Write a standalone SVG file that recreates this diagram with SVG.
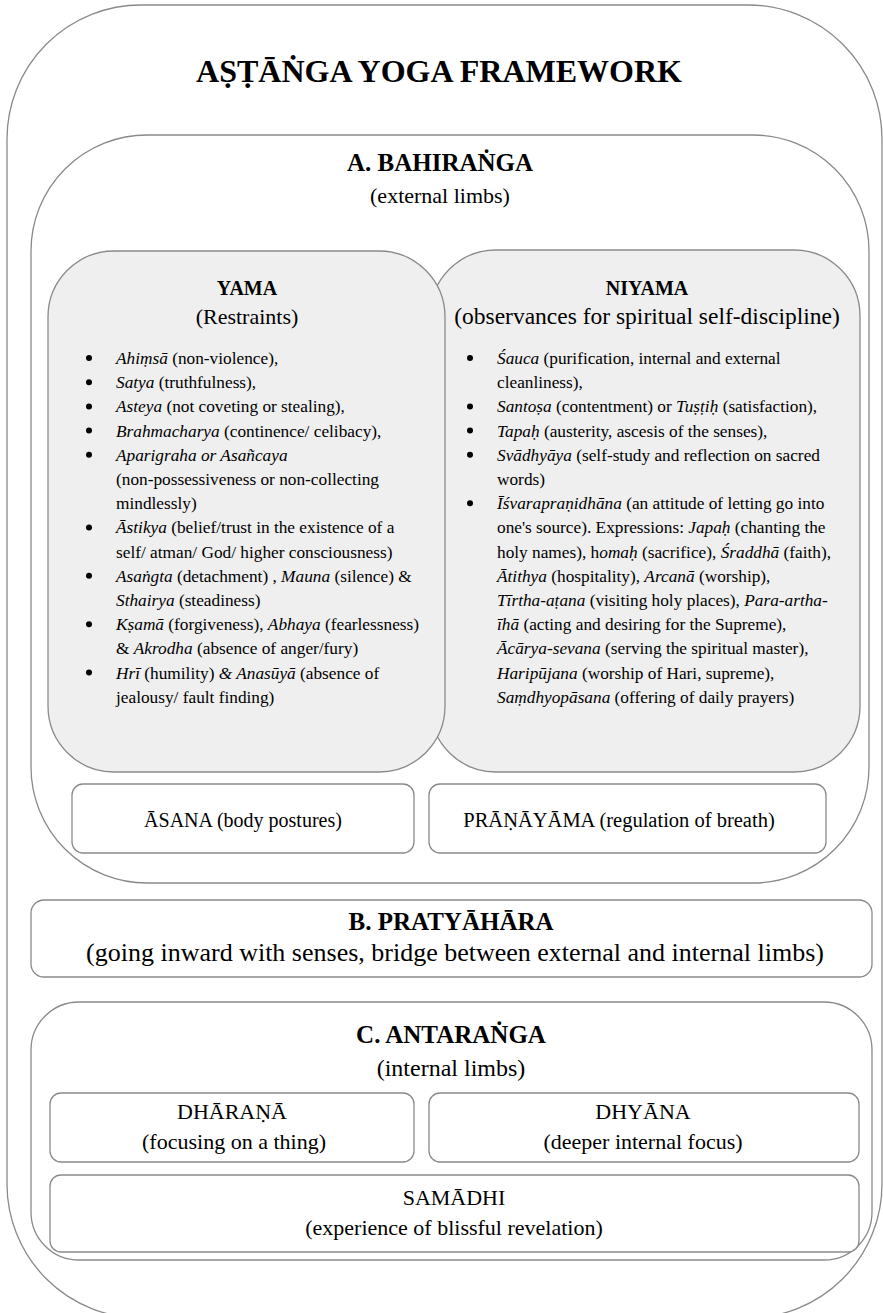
<svg xmlns="http://www.w3.org/2000/svg" width="883" height="1313" viewBox="0 0 883 1313">
<style>
text{font-family:"Liberation Serif","Times New Roman",serif;fill:#000}
.box{fill:#fff;stroke:#8a8a8a;stroke-width:1.3}
.gbox{fill:#efefef;stroke:#8a8a8a;stroke-width:1.3}
.t{font-size:32px;font-weight:bold;text-anchor:middle}
.h{font-size:25px;font-weight:bold;text-anchor:middle}
.s{font-size:22px;text-anchor:middle}
.hs{font-size:20px;font-weight:bold;text-anchor:middle}
.li{font-size:17.3px}
.i{font-style:italic}
.c{text-anchor:middle}
</style>
<g id="frame">
<rect class="box" x="7" y="5" width="875" height="1313" rx="134" ry="134"/>
<text class="t" x="439" y="82">AṢṬĀṄGA YOGA FRAMEWORK</text>
</g>
<g id="bahiranga">
<rect class="box" x="31" y="135" width="838" height="748" rx="116" ry="116"/>
<text class="h" x="440" y="171">A. BAHIRAṄGA</text>
<text class="s" x="440" y="203">(external limbs)</text>
</g>
<g id="niyama">
<rect class="gbox" x="430" y="250" width="430" height="522" rx="66" ry="66"/>
<text class="hs" x="647" y="295">NIYAMA</text>
<text class="s" x="647" y="324" style="font-size:23.5px">(observances for spiritual self-discipline)</text>
<g fill="#000">
<circle cx="470" cy="358" r="3"/><circle cx="470" cy="406.4" r="3"/><circle cx="470" cy="430.6" r="3"/><circle cx="470" cy="454.8" r="3"/><circle cx="470" cy="503.2" r="3"/>
</g>
<g class="li">
<text x="497" y="364"><tspan class="i">Śauca</tspan> (purification, internal and external</text>
<text x="497" y="388.2">cleanliness),</text>
<text x="497" y="412.4"><tspan class="i">Santoṣa</tspan> (contentment) or <tspan class="i">Tuṣṭiḥ</tspan> (satisfaction),</text>
<text x="497" y="436.6"><tspan class="i">Tapaḥ</tspan> (austerity, ascesis of the senses),</text>
<text x="497" y="460.8"><tspan class="i">Svādhyāya</tspan> (self-study and reflection on sacred</text>
<text x="497" y="485">words)</text>
<text x="497" y="509.2"><tspan class="i">Īśvarapraṇidhāna</tspan> (an attitude of letting go into</text>
<text x="497" y="533.4">one's source). Expressions: <tspan class="i">Japaḥ</tspan> (chanting the</text>
<text x="497" y="557.6">holy names), h<tspan class="i">omaḥ</tspan> (sacrifice), <tspan class="i">Śraddhā</tspan> (faith),</text>
<text x="497" y="581.8"><tspan class="i">Ātithya</tspan> (hospitality), <tspan class="i">Arcanā</tspan> (worship),</text>
<text x="497" y="606"><tspan class="i">Tīrtha-aṭana</tspan> (visiting holy places), <tspan class="i">Para-artha-</tspan></text>
<text x="497" y="630.2"><tspan class="i">īhā</tspan> (acting and desiring for the Supreme),</text>
<text x="497" y="654.4"><tspan class="i">Ācārya-sevana</tspan> (serving the spiritual master),</text>
<text x="497" y="678.6"><tspan class="i">Haripūjana</tspan> (worship of Hari, supreme),</text>
<text x="497" y="702.8"><tspan class="i">Saṃdhyopāsana</tspan> (offering of daily prayers)</text>
</g>
</g>
<g id="yama">
<rect class="gbox" x="48" y="251" width="397" height="521" rx="66" ry="66"/>
<text class="hs" x="247" y="295">YAMA</text>
<text class="s" x="247" y="324">(Restraints)</text>
<g fill="#000">
<circle cx="89" cy="358" r="3"/><circle cx="89" cy="382.2" r="3"/><circle cx="89" cy="406.4" r="3"/><circle cx="89" cy="430.6" r="3"/><circle cx="89" cy="454.8" r="3"/><circle cx="89" cy="527.4" r="3"/><circle cx="89" cy="575.8" r="3"/><circle cx="89" cy="624.2" r="3"/><circle cx="89" cy="672.6" r="3"/>
</g>
<g class="li">
<text x="116" y="364"><tspan class="i">Ahiṃsā</tspan> (non-violence),</text>
<text x="116" y="388.2"><tspan class="i">Satya</tspan> (truthfulness),</text>
<text x="116" y="412.4"><tspan class="i">Asteya</tspan> (not coveting or stealing),</text>
<text x="116" y="436.6"><tspan class="i">Brahmacharya</tspan> (continence/ celibacy),</text>
<text x="116" y="460.8"><tspan class="i">Aparigraha or Asañcaya</tspan></text>
<text x="116" y="485">(non-possessiveness or non-collecting</text>
<text x="116" y="509.2">mindlessly)</text>
<text x="116" y="533.4"><tspan class="i">Āstikya</tspan> (belief/trust in the existence of a</text>
<text x="116" y="557.6">self/ atman/ God/ higher consciousness)</text>
<text x="116" y="581.8"><tspan class="i">Asaṅgta</tspan> (detachment) , <tspan class="i">Mauna</tspan> (silence) &amp;</text>
<text x="116" y="606"><tspan class="i">Sthairya</tspan> (steadiness)</text>
<text x="116" y="630.2"><tspan class="i">Kṣamā</tspan> (forgiveness), <tspan class="i">Abhaya</tspan> (fearlessness)</text>
<text x="116" y="654.4">&amp; <tspan class="i">Akrodha</tspan> (absence of anger/fury)</text>
<text x="116" y="678.6"><tspan class="i">Hrī</tspan> (humility) <tspan class="i">&amp; Anasūyā</tspan> (absence of</text>
<text x="116" y="702.8">jealousy/ fault finding)</text>
</g>
</g>
<g id="asana">
<rect class="box" x="72" y="784" width="342" height="69" rx="11" ry="11"/>
<text class="s" x="243" y="827" style="font-size:20px">ĀSANA (body postures)</text>
</g>
<g id="pranayama">
<rect class="box" x="429" y="784" width="397" height="69" rx="11" ry="11"/>
<text class="s" x="619" y="827" style="font-size:20.5px">PRĀṆĀYĀMA (regulation of breath)</text>
</g>
<g id="pratyahara">
<rect class="box" x="31" y="900" width="841" height="77" rx="13" ry="13"/>
<text class="h" x="451" y="930">B. PRATYĀHĀRA</text>
<text class="s" x="455" y="961" style="font-size:26px">(going inward with senses, bridge between external and internal limbs)</text>
</g>
<g id="antaranga">
<rect class="box" x="31" y="1002" width="841" height="258" rx="48" ry="48"/>
<text class="h" x="451" y="1043">C. ANTARAṄGA</text>
<text class="s" x="451" y="1076" style="font-size:24px">(internal limbs)</text>
</g>
<g id="dharana">
<rect class="box" x="50" y="1093" width="364" height="69" rx="11" ry="11"/>
<text class="s" x="232" y="1119">DHĀRAṆĀ</text>
<text class="s" x="234" y="1149">(focusing on a thing)</text>
</g>
<g id="dhyana">
<rect class="box" x="429" y="1093" width="430" height="69" rx="11" ry="11"/>
<text class="s" x="643" y="1119">DHYĀNA</text>
<text class="s" x="643" y="1149">(deeper internal focus)</text>
</g>
<g id="samadhi">
<rect class="box" x="50" y="1175" width="809" height="77" rx="11" ry="11"/>
<text class="s" x="454" y="1205">SAMĀDHI</text>
<text class="s" x="454" y="1235">(experience of blissful revelation)</text>
</g>
<g id="connectors"/>
</svg>
